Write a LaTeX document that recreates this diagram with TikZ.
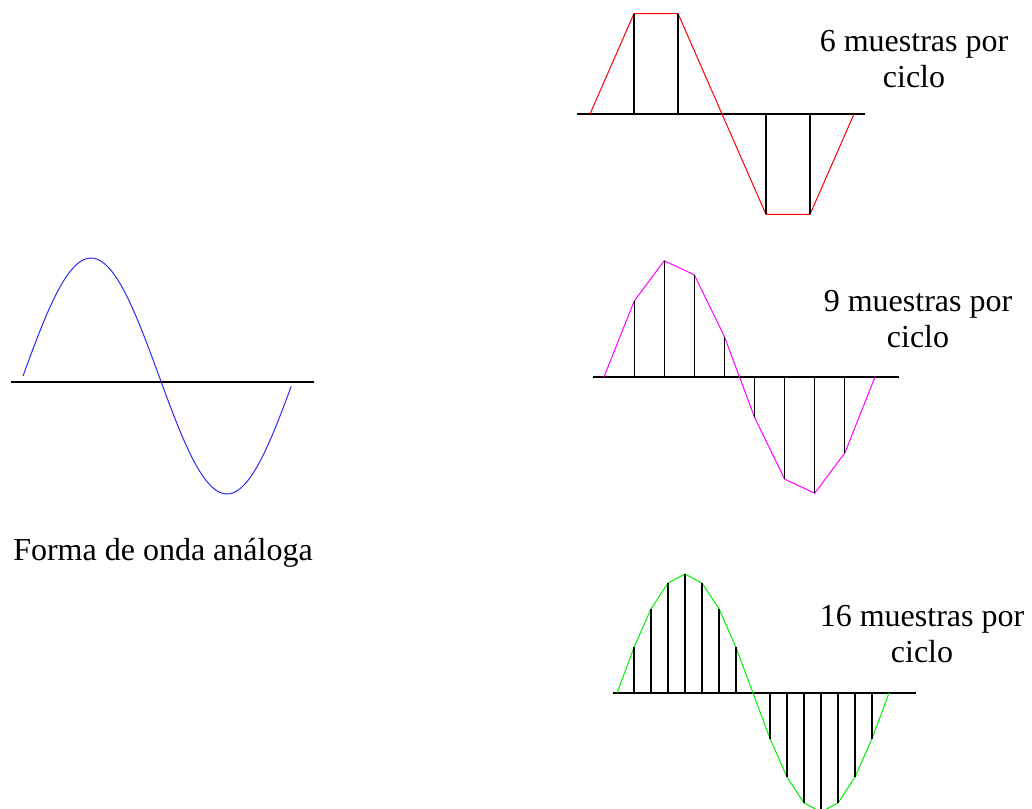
\documentclass[tikz,border=0pt]{standalone}
\usepackage{fontspec}
\setmainfont{Liberation Serif}
\usepackage{xcolor}
\usepackage{tikz}
\definecolor{OndaAzul}{HTML}{2A2AF0}
\definecolor{OndaRojo}{HTML}{FF0000}
\definecolor{OndaMagenta}{HTML}{FF00FF}
\definecolor{OndaVerde}{HTML}{00F000}
\tikzset{
  eje/.style={black,line width=0.9pt},
  tallo/.style={black,line width=0.9pt},
  onda/.style={line width=0.75pt},
  rotulo/.style={inner sep=0pt,font=\fontsize{24}{27}\selectfont},
}

\begin{document}
\begin{tikzpicture}[x=0.75pt,y=-0.75pt]
    \useasboundingbox (0,0) rectangle (1032,809);
    % analog wave
    \draw[eje] (11,382) -- (314,382);
    \draw[onda,OndaAzul] plot[smooth,samples=80,domain=0:355] ({23+272*(\x/360)},{376-118*sin(\x)});
    \node[rotulo,anchor=base west] (analoga) at (13,560) {Forma de onda análoga};
    % 6 samples
    \draw[eje] (577,114) -- (865,114);
    \draw[onda,OndaRojo] plot[samples=7,domain=0:360] ({590+264*(\x/360)},{114-116*sin(\x)});
    \foreach \k in {1,2,4,5}
      \draw[tallo] ({590+44*\k},114) -- ({590+44*\k},{114-116*sin(60*\k)});
    \node[rotulo,anchor=north,align=center] (seis) at (914,30.4) {6 muestras por\\ciclo};
    % 9 samples
    \draw[eje] (593,377) -- (899,377);
    \draw[onda,OndaMagenta] plot[samples=10,domain=0:360] ({604+271*(\x/360)},{377-118*sin(\x)});
    \foreach \k in {1,...,8}
      \draw[tallo] ({604+271*\k/9},377) -- ({604+271*\k/9},{377-118*sin(40*\k)});
    \node[rotulo,anchor=north,align=center] (nueve) at (918,290.4) {9 muestras por\\ciclo};
    % 16 samples
    \draw[eje] (613,693) -- (916,693);
    \draw[onda,OndaVerde] plot[samples=17,domain=0:360] ({617+272*(\x/360)},{693-119*sin(\x)});
    \foreach \k in {1,...,7,9,10,...,15}
      \draw[tallo] ({617+17*\k},693) -- ({617+17*\k},{693-119*sin(22.5*\k)});
    \node[rotulo,anchor=north,align=center] (dieciseis) at (922,605.4) {16 muestras por\\ciclo};
  \end{tikzpicture}
\end{document}
